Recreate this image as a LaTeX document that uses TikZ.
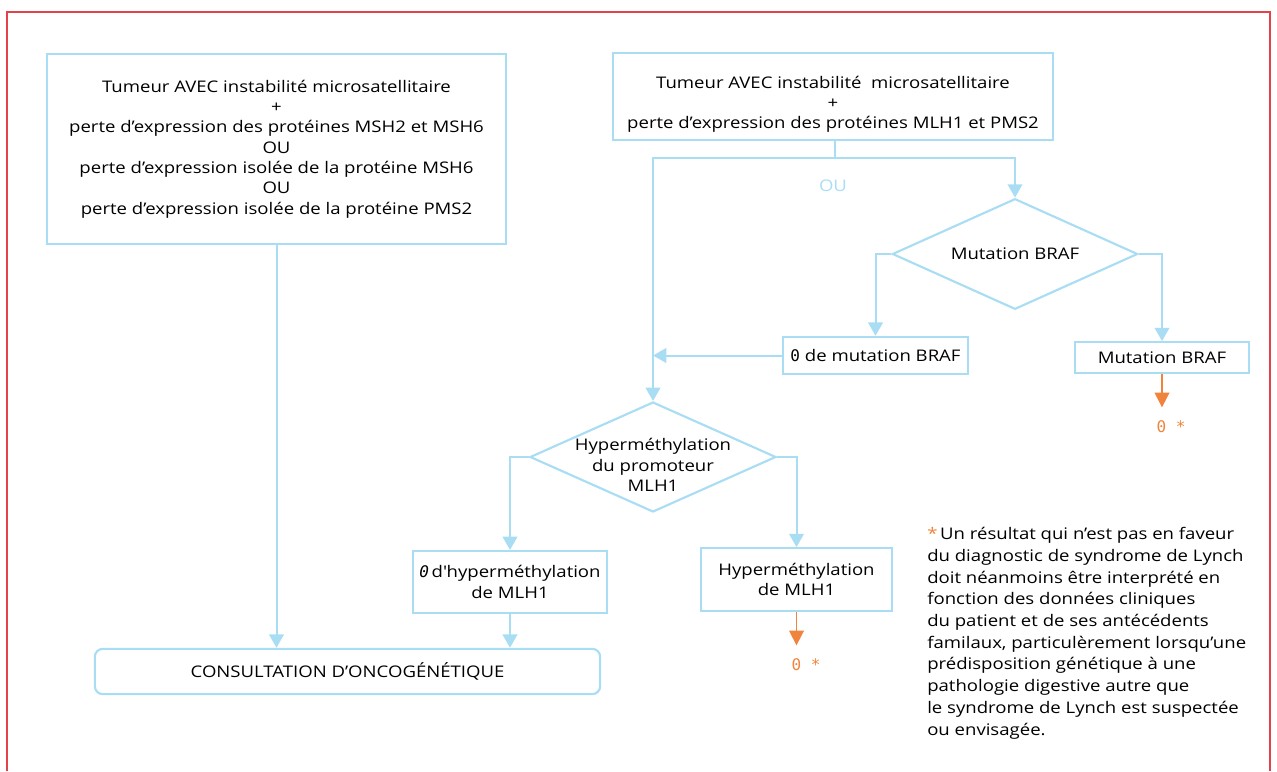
\documentclass[tikz,border=0pt]{standalone}
\usepackage{fontspec}
\setmainfont{Open Sans}[FakeStretch=1.16]
\newfontfamily\chiffre{DejaVu Sans Mono}
\usetikzlibrary{arrows.meta,positioning,shapes.geometric}
\definecolor{ciel}{HTML}{A9DDF4}
\definecolor{orangeinca}{HTML}{F0843C}
\definecolor{cadre}{HTML}{E5414B}
\newcommand\corps{\fontsize{12}{15.2}\selectfont}
\tikzset{
  >={Triangle[length=10pt,width=11pt]},
  % boites
  boite/.style={rectangle,draw=ciel,line width=1.6pt,fill=white,align=center,
                inner sep=2pt,font=\corps},
  losange/.style={diamond,draw=ciel,line width=1.6pt,fill=white,inner sep=0pt},
  texte/.style={align=center,inner sep=0pt,font=\corps},
  % fleches
  trait/.style={draw=ciel,line width=1.5pt},
  fleche/.style={->,draw=ciel,line width=1.5pt},
  renvoi/.style={text=orangeinca,font=\corps\chiffre,inner sep=1pt},
  flor/.style={-{Triangle[length=11pt,width=11pt]},draw=orangeinca,line width=1.2pt},
  note/.style={align=left,inner sep=0pt,font=\fontsize{12}{16.3}\selectfont},
}
\begin{document}
\begin{tikzpicture}[x=0.75pt,y=-0.75pt]
  \useasboundingbox (0,0) rectangle (1277,771);
  \draw[cadre,line width=1.3pt] (7,771) -- (7,12) -- (1270,12) -- (1270,771);
  % colonne gauche
  \node[boite,minimum width=344pt,minimum height=142.5pt] (msh) at (276.5,149)
    {Tumeur AVEC instabilité microsatellitaire\\+\\perte d’expression des protéines MSH2 et MSH6\\OU\\perte d’expression isolée de la protéine MSH6\\OU\\perte d’expression isolée de la protéine PMS2};
  \node[boite,rounded corners=6pt,minimum width=379pt,minimum height=34pt] (consult) at (347.5,671.5)
    {CONSULTATION D’ONCOGÉNÉTIQUE};
  % colonne droite
  \node[boite,minimum width=330pt,minimum height=65pt] (mlh) at (833,96.5)
    {\rule{0pt}{21pt}Tumeur AVEC instabilité\ \ microsatellitaire\\+\\perte d’expression des protéines MLH1 et PMS2};
  \coordinate (fourche) at (835,158);
  \node[text=ciel,font=\corps] (ou) at (833,186) {OU};
  \node[losange,minimum width=184pt,minimum height=83pt] (dbraf) at (1015,254) {};
  \node[texte] (tbraf) at (dbraf.center) {Mutation BRAF};
  \node[boite,minimum width=139pt,minimum height=28pt] (nobraf) at (875.5,355.5) {{\chiffre 0} de mutation BRAF};
  \node[boite,minimum width=130.5pt,minimum height=23pt] (braf) at (1162,357.5) {Mutation BRAF};
  \node[losange,minimum width=184.5pt,minimum height=82.5pt] (dhyper) at (653,457) {};
  \node[texte] (thyper) at ([yshift=-6pt]dhyper.center) {Hyperméthylation\\du promoteur\\MLH1};
  \node[boite,minimum width=145.5pt,minimum height=46.5pt] (nohyper) at (510,582)
    {{\chiffre\itshape 0}\,d\textquotesingle hyperméthylation\\de MLH1};
  \node[boite,minimum width=143pt,minimum height=47pt] (hyper) at (796.5,579.5)
    {Hyperméthylation\\de MLH1};
  \node[renvoi] (renvoiA) at (1171,427) {0 *};
  \node[renvoi] (renvoiB) at (806,665) {0 *};
  \node[note,anchor=north west] (nb) at (927,527)
    {{\color{orangeinca}*}\,Un résultat qui n’est pas en faveur\\du diagnostic de syndrome de Lynch\\doit néanmoins être interprété en\\fonction des données cliniques\\du patient et de ses antécédents\\familaux, particulèrement lorsqu’une\\prédisposition génétique à une\\pathologie digestive autre que\\le syndrome de Lynch est suspectée\\ou envisagée.};
  % liens
  \draw[fleche] (msh.south) -- (msh.south |- consult.north);
  \draw[trait] (mlh.south -| fourche) -- (fourche);
  \draw[fleche] (fourche) -| (dbraf.north);
  \draw[fleche] (fourche) -| (dhyper.north);
  \draw[fleche] (dbraf.west) -| (nobraf.north);
  \draw[fleche] (dbraf.east) -| (braf.north);
  \draw[fleche] (nobraf.west) -- (nobraf.west -| dhyper.north);
  \draw[fleche] (dhyper.west) -| (nohyper.north);
  \draw[fleche] (dhyper.east) -| (hyper.north);
  \draw[fleche] (nohyper.south) -- (nohyper.south |- consult.north);
  \draw[flor,shorten >=9pt] (braf.south) -- (braf.south |- renvoiA.north);
  \draw[flor,shorten >=9pt] (hyper.south) -- (hyper.south |- renvoiB.north);
\end{tikzpicture}
\end{document}
